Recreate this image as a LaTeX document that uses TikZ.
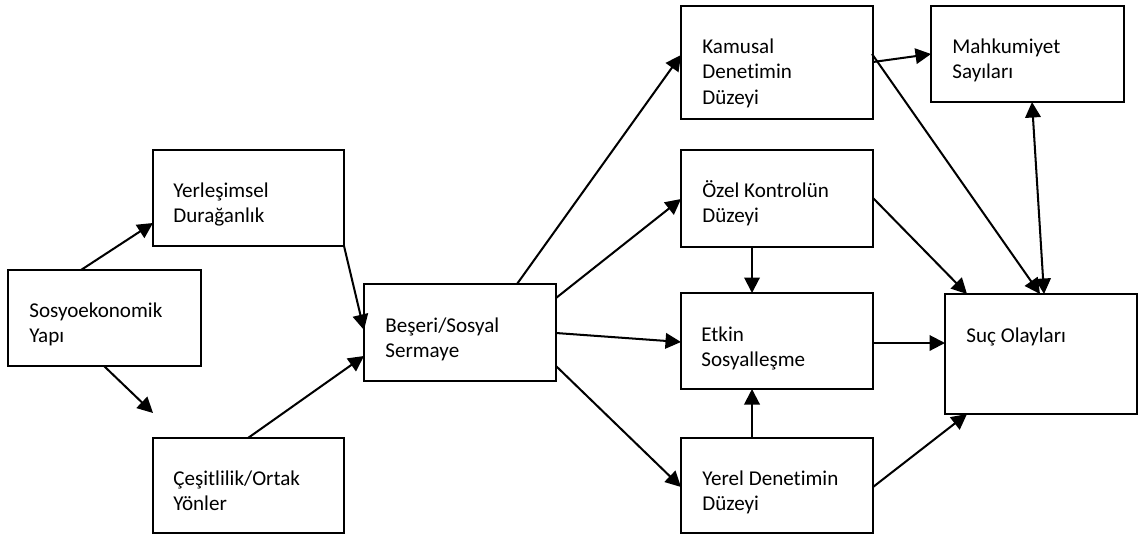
\documentclass[tikz,border=0pt]{standalone}
\usepackage{fontspec}
\setmainfont{Carlito}[Ligatures={NoCommon,NoRare,NoContextual}]
\usetikzlibrary{arrows.meta,calc}
\newcommand\tl[1]{\vtop{\baselineskip=14.75pt\lineskiplimit=-20pt\halign{##\hfil\cr#1\crcr}}}
\newcommand\bx[5]{\node[box, minimum width={(#4-#2)*0.02cm}, minimum height={(#5-#3)*0.02cm}] (#1) at ({(#2+#4)/2},{(#3+#5)/2}) {};}
\begin{document}
\begin{tikzpicture}[x=0.02cm,y=-0.02cm,
  box/.style={draw=black, line width=1.1pt, inner sep=0pt, outer sep=0pt, fill=white},
  lbl/.style={anchor=base west, inner sep=0pt, font=\fontsize{12pt}{14.75pt}\selectfont},
  arr/.style={line width=1.15pt, -{Triangle[length=0.31cm,width=0.31cm]}},
  darr/.style={line width=1.15pt, {Triangle[length=0.31cm,width=0.31cm]}-{Triangle[length=0.31cm,width=0.31cm]}}]
\useasboundingbox[fill=white] (0,0) rectangle (1141,538);
% boxes
\bx{soc}{8}{270}{201}{366}
\bx{yer}{153}{150}{344}{246}
\bx{ces}{153}{438}{344}{533}
\bx{bes}{364}{284}{556}{381}
\bx{kam}{681}{6}{873}{119}
\bx{mah}{931}{6}{1124}{102}
\bx{oze}{681}{150}{873}{247}
\bx{etk}{681}{293}{873}{389}
\bx{yrl}{681}{438}{873}{533}
\bx{suc}{945}{294}{1137}{414}
% texts
\node[lbl] (socT) at ($(soc.north west)+(21,47)$) {\tl{Sosyoekonomik\cr Yapı}};
\node[lbl] (yerT) at ($(yer.north west)+(20,47)$) {\tl{Yerleşimsel\cr Durağanlık}};
\node[lbl] (cesT) at ($(ces.north west)+(20,47)$) {\tl{Çeşitlilik/Ortak\cr Yönler}};
\node[lbl] (besT) at ($(bes.north west)+(21,48)$) {\tl{Beşeri/Sosyal\cr Sermaye}};
\node[lbl] (kamT) at ($(kam.north west)+(21,47)$) {\tl{Kamusal\cr Denetimin\cr Düzeyi}};
\node[lbl] (mahT) at ($(mah.north west)+(21,47)$) {\tl{Mahkumiyet\cr Sayıları}};
\node[lbl] (ozeT) at ($(oze.north west)+(21,47)$) {\tl{Özel Kontrolün\cr Düzeyi}};
\node[lbl] (etkT) at ($(etk.north west)+(20,48)$) {\tl{Etkin\cr Sosyalleşme}};
\node[lbl] (sucT) at ($(suc.north west)+(21,48)$) {\tl{Suç Olayları}};
\node[lbl] (yrlT) at ($(yrl.north west)+(21,47)$) {\tl{Yerel Denetimin\cr Düzeyi}};
% free end
\coordinate (cesIn) at (153,413);
% connectors
\draw[arr] ($(soc.north west)+(73,0)$) -- ($(yer.north west)+(0,73)$);
\draw[arr] ($(soc.north west)+(96,96)$) -- (cesIn);
\draw[arr] ($(yer.north west)+(191,96)$) -- ($(bes.north west)+(0,46)$);
\draw[arr] ($(ces.north west)+(95,0)$) -- ($(bes.north west)+(0,72)$);
\draw[arr] ($(bes.north west)+(153,0)$) -- ($(kam.north west)+(0,49)$);
\draw[arr] ($(bes.north west)+(192,14)$) -- ($(oze.north west)+(0,49)$);
\draw[arr] ($(bes.north west)+(192,49)$) -- ($(etk.north west)+(0,49)$);
\draw[arr] ($(bes.north west)+(192,82)$) -- ($(yrl.north west)+(0,49)$);
\draw[arr] ($(oze.north west)+(71,97)$) -- ($(etk.north west)+(71,0)$);
\draw[arr] ($(yrl.north west)+(71,0)$) -- ($(etk.north west)+(71,96)$);
\draw[arr] ($(etk.north west)+(192,50)$) -- ($(suc.north west)+(0,49)$);
\draw[arr] ($(oze.north west)+(192,48)$) -- ($(suc.north west)+(22,0)$);
\draw[arr] ($(kam.north west)+(191,48)$) -- ($(suc.north west)+(95,0)$);
\draw[arr] ($(kam.north west)+(192,56)$) -- ($(mah.north west)+(0,48)$);
\draw[darr] ($(mah.north west)+(101,96)$) -- ($(suc.north west)+(99,0)$);
\draw[arr] ($(yrl.north west)+(192,49)$) -- ($(suc.north west)+(22,120)$);
\end{tikzpicture}
\end{document}
